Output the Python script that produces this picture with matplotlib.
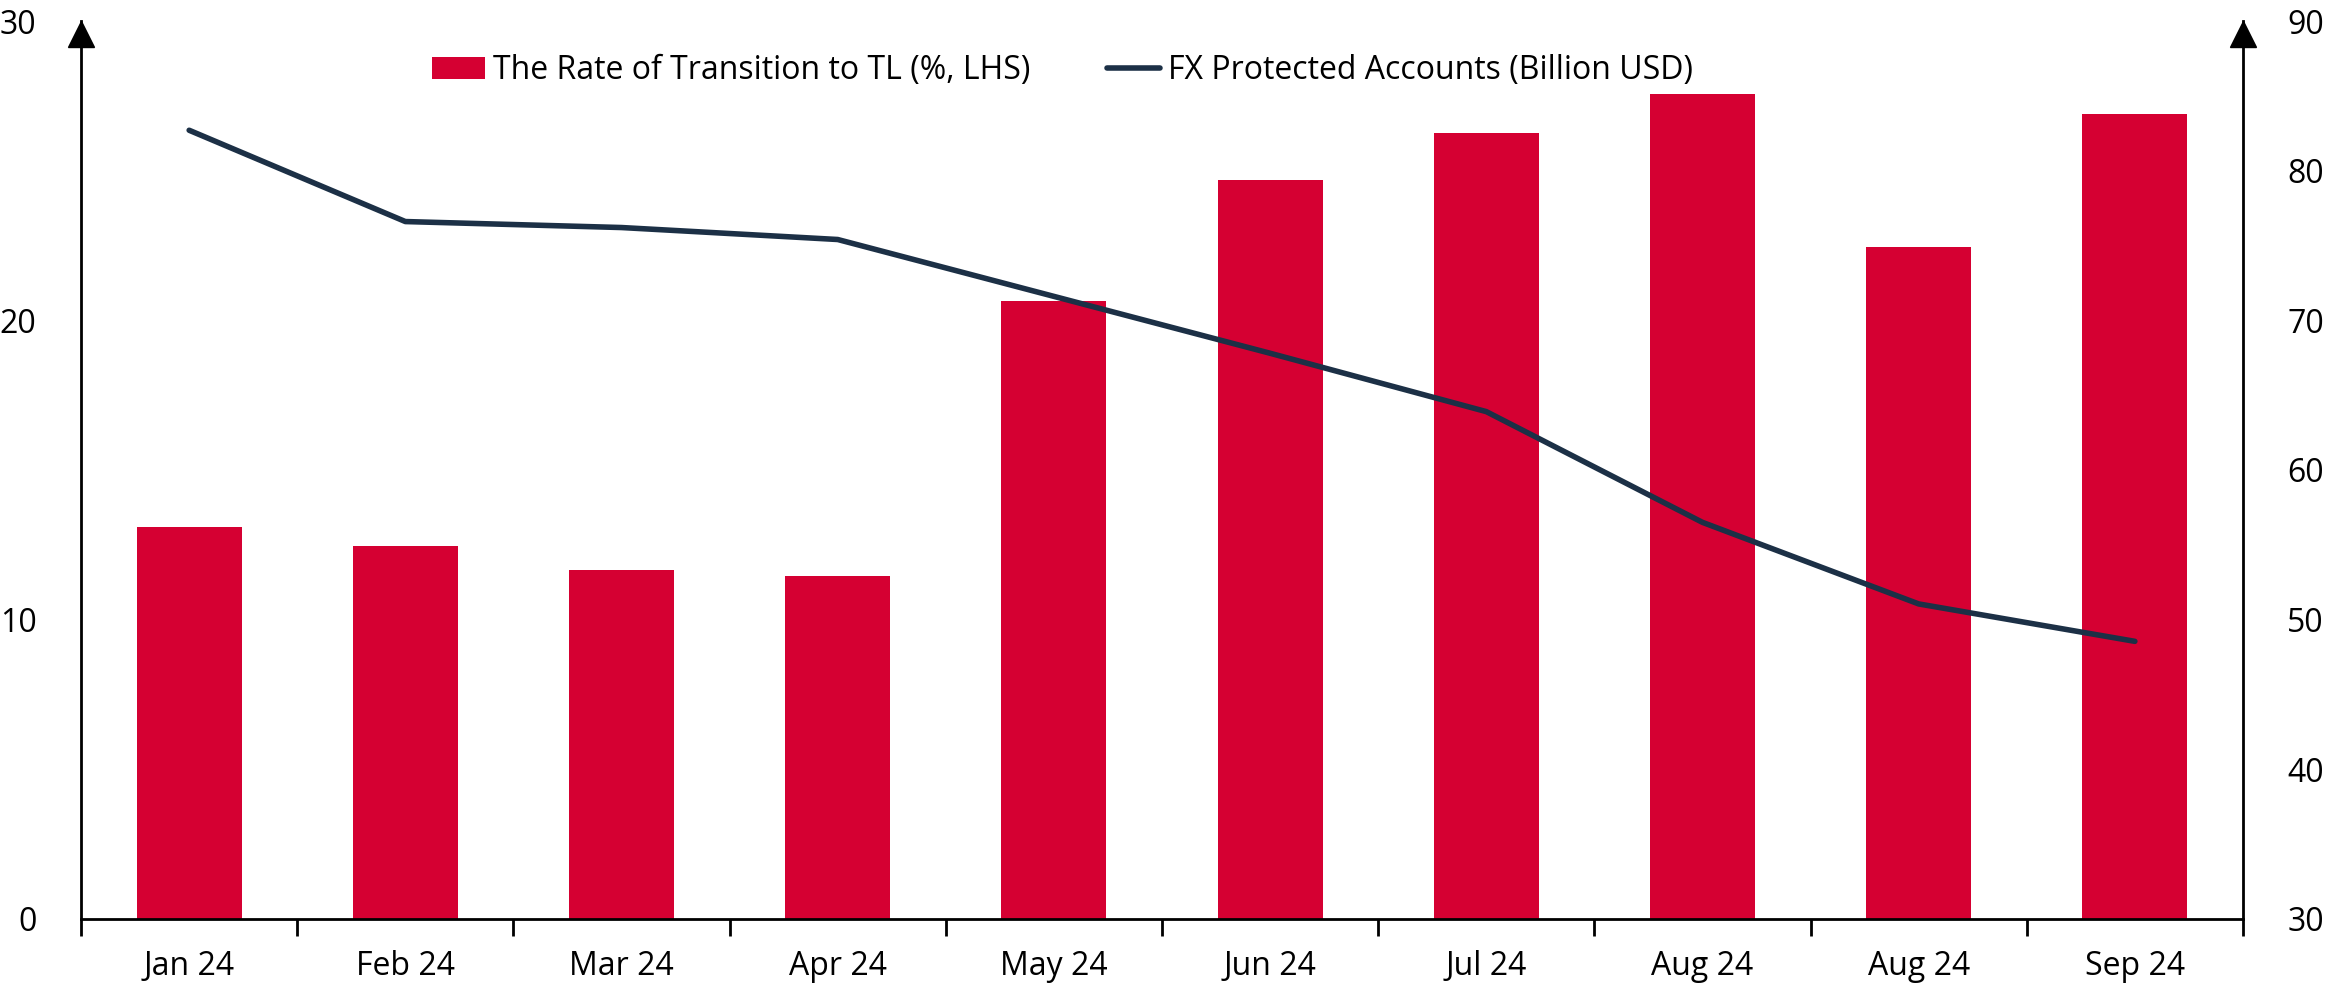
import matplotlib.pyplot as plt
from matplotlib.ticker import FixedLocator

# Data
months = ["Jan 24", "Feb 24", "Mar 24", "Apr 24", "May 24",
          "Jun 24", "Jul 24", "Aug 24", "Aug 24", "Sep 24"]
transition_rate = [13.1, 12.45, 11.65, 11.45, 20.65, 24.7, 26.25, 27.55, 22.45, 26.9]
fx_accounts = [82.7, 76.6, 76.2, 75.4, 71.6, 67.8, 63.9, 56.5, 51.05, 48.55]

bar_color = "#D50032"
line_color = "#1C3046"

plt.rcParams['font.family'] = ['Open Sans', 'DejaVu Sans']
plt.rcParams['font.size'] = 23

fig = plt.figure(figsize=(23.43, 9.91), dpi=100)
ax = fig.add_axes([0.0346, 0.0727, 0.9227, 0.9061])
ax2 = ax.twinx()

x = list(range(len(months)))
bars = ax.bar(x, transition_rate, width=0.485, color=bar_color,
              label="The Rate of Transition to TL (%, LHS)", zorder=2)
line, = ax2.plot(x, fx_accounts, color=line_color, lw=4,
                 solid_capstyle='round', solid_joinstyle='round',
                 label="FX Protected Accounts (Billion USD)", zorder=3)

ax.set_xlim(-0.5, len(months) - 0.5)
ax.set_ylim(0, 30)
ax2.set_ylim(30, 90)
ax.set_yticks([0, 10, 20, 30])
ax2.set_yticks([30, 40, 50, 60, 70, 80, 90])

# category labels at centres, tick marks at the boundaries
ax.set_xticks(x)
ax.set_xticklabels(months)
ax.xaxis.set_minor_locator(FixedLocator([i - 0.5 for i in range(len(months) + 1)]))
ax.tick_params(axis='x', which='major', length=0, pad=22)
ax.tick_params(axis='x', which='minor', length=12, width=2, direction='out')
ax.tick_params(axis='y', length=0, pad=32)
ax2.tick_params(axis='y', length=0, pad=32)

for a in (ax, ax2):
    a.spines['top'].set_visible(False)
    for s in a.spines.values():
        s.set_linewidth(2)
ax.spines['right'].set_visible(False)
ax2.spines['left'].set_visible(False)
ax2.spines['bottom'].set_visible(False)

# arrow heads on the y axes
ax.plot([0, 1], [0.985, 0.985], transform=ax.transAxes, marker='^', ms=18.5,
        color='black', lw=0, clip_on=False, zorder=5)

ax.set_zorder(ax2.get_zorder() - 1)
ax.patch.set_visible(False)
ax2.patch.set_visible(False)
fig.patch.set_facecolor('white')

ax2.legend([bars, line], [bars.get_label(), line.get_label()], ncol=2,
           loc='center', bbox_to_anchor=(0.454, 0.945), frameon=False,
           handlelength=1.65, handleheight=0.7, handletextpad=0.25,
           columnspacing=2.4, fontsize=23)

fig.savefig("out.png", dpi=100, facecolor='white')
